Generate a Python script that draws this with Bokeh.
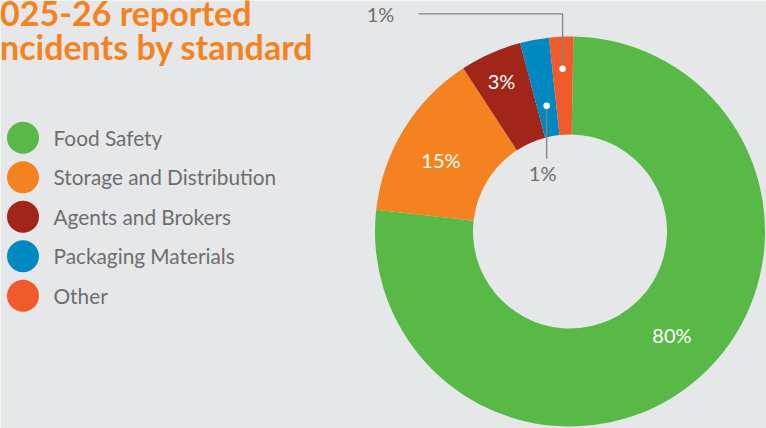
import numpy as np
from bokeh.plotting import figure
from bokeh.models import Range1d
from bokeh.core.properties import value
from bokeh.embed import file_html
from bokeh.resources import INLINE

# ---- data ----
categories = ["Food Safety", "Storage and Distribution", "Agents and Brokers",
              "Packaging Materials", "Other"]
shares = [76.5, 14.0, 5.1, 2.4, 2.0]          # drawn share of the ring
pct_labels = ["80%", "15%", "3%", "1%", "1%"]  # printed labels
colors = ["#58b947", "#f58220", "#a12518", "#0089c1", "#f15a2b"]
title_lines = ["2025-26 reported", "incidents by standard"]

# ---- style ----
W, H = 766, 428
BG = "#e6e7e8"
GRAY = "#6d6e71"
LINE = "#808285"
FONT = value("Lato")
SHIFT = 0.4  # compensation (em) for the renderer's baseline placement

p = figure(width=W, height=H, x_range=Range1d(0, W), y_range=Range1d(0, H),
           output_backend="svg", toolbar_location=None, min_border=0,
           background_fill_color=BG, border_fill_color=BG, outline_line_color=None)
p.axis.visible = False
p.grid.visible = False


def sy(y):
    return H - y


def label(x, y_center, txt, color, fs, align="center", bold=False):
    # y_center: visual middle of capitals, in screen pixels from top
    p.text(x=[x], y=[sy(y_center)], text=[txt], text_color=color, text_font=FONT,
           text_font_size=f"{fs}px", text_align=align, text_baseline="alphabetic",
           text_font_style="bold" if bold else "normal",
           y_offset=0.36 * fs - SHIFT * fs)


# ---- donut ----
cx, cy = 569.5, sy(231)
r_in, r_out = 97, 195
start0 = np.deg2rad(89)
vals = np.array(shares, dtype=float)
ang = vals / vals.sum() * 2 * np.pi
cum = np.cumsum(ang)
starts = start0 - np.concatenate([[0.0], cum[:-1]])
ends = start0 - cum
mids = (starts + ends) / 2

p.annular_wedge(x=cx, y=cy, inner_radius=r_in, outer_radius=r_out,
                start_angle=list(starts), end_angle=list(ends), direction="clock",
                fill_color=colors, line_color=None)

# in-slice labels
label_r = [146, 147, 165]
label_off = np.deg2rad([3, 3, 0.5])
for i in range(3):
    a = mids[i] + label_off[i]
    lx, ly = cx + label_r[i] * np.cos(a), cy + label_r[i] * np.sin(a)
    label(lx, H - ly, pct_labels[i], "white", 20)

# leader for "Other"
i = 4
dx, dy = cx + 163 * np.cos(mids[i]), cy + 163 * np.sin(mids[i])
p.line(x=[dx, dx, 418], y=[dy, sy(13.3), sy(13.3)], line_color=LINE, line_width=1.3)
p.scatter(x=[dx], y=[dy], size=6.5, fill_color="white", line_color=None)
label(380, 14, pct_labels[i], GRAY, 20)

# leader for "Packaging Materials"
i = 3
dx, dy = cx + 128 * np.cos(mids[i]), cy + 128 * np.sin(mids[i])
p.line(x=[dx, dx], y=[dy, sy(158.3)], line_color=LINE, line_width=1.3)
p.scatter(x=[dx], y=[dy], size=6.5, fill_color="white", line_color=None)
label(dx - 4, 173.3, pct_labels[i], GRAY, 20)

# ---- legend ----
for k, (name, c) in enumerate(zip(categories, colors)):
    yc = 137.3 + k * 39.5
    p.scatter(x=[22.5], y=[sy(yc)], size=32, fill_color=c, line_color=None)
    label(53, yc + 0.5, name, GRAY, 20.8, align="left")

# ---- title ----
for txt, xr, yb in zip(title_lines, [251, 313], [26, 60]):
    fs = 34
    p.text(x=[xr], y=[sy(yb)], text=[txt], text_color="#f58220", text_font=FONT,
           text_font_style="bold", text_font_size=f"{fs}px", text_align="right",
           text_baseline="alphabetic", y_offset=-SHIFT * fs)

open("out.html", "w").write(file_html(p, INLINE))
